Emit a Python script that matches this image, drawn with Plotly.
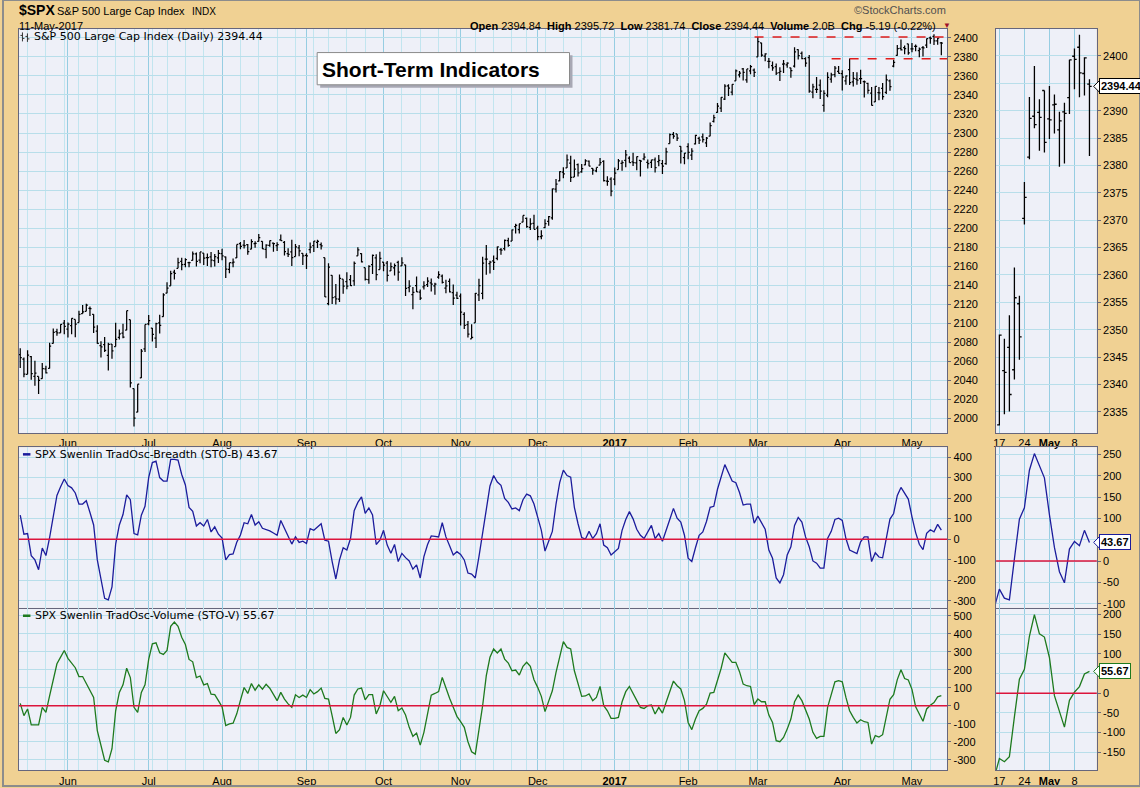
import plotly.graph_objects as go
import pandas as pd

W, H = 1140, 788

# ---------------- DATA ----------------
HOLIDAYS = ["2016-05-30", "2016-07-04", "2016-09-05", "2016-11-24", "2016-12-26",
            "2017-01-02", "2017-01-16", "2017-02-20", "2017-04-14"]
dates = [d for d in pd.bdate_range("2016-05-12", "2017-05-11")
         if d.strftime("%Y-%m-%d") not in HOLIDAYS]
n = len(dates)
idx = list(range(n))

open_ = [
    # May 2016
    2067.17, 2062.50, 2046.53, 2065.04, 2044.38, 2044.21, 2041.88, 2052.23, 2052.65, 2078.93, 2091.44, 2090.06, 2100.13,
    # Jun
    2093.94, 2097.71, 2104.07, 2100.83, 2110.18, 2112.71, 2115.65, 2109.57, 2091.75, 2076.65, 2077.60, 2066.36, 2078.20,
    2075.58, 2085.19, 2089.75, 2092.80, 2103.81, 2031.45, 2006.67, 2042.69, 2073.17,
    # Jul
    2099.34, 2095.05, 2084.43, 2100.42, 2106.97, 2131.72, 2139.50, 2153.81, 2157.88, 2165.13, 2162.04, 2163.79, 2166.10,
    2172.91, 2166.47, 2173.71, 2168.97, 2169.81, 2166.05, 2168.83,
    # Aug
    2173.15, 2169.94, 2156.81, 2163.51, 2168.79, 2183.76, 2182.24, 2182.81, 2177.97, 2183.74, 2186.08, 2186.24, 2177.84,
    2181.90, 2184.24, 2181.58, 2187.81, 2185.09, 2173.29, 2175.10, 2170.19, 2179.45, 2173.56,
    # Sep
    2171.33, 2177.49, 2181.61, 2185.17, 2182.76, 2169.08, 2120.86, 2150.47, 2127.86, 2125.36, 2146.48, 2143.99, 2145.94,
    2144.58, 2170.94, 2173.29, 2158.54, 2146.04, 2161.85, 2168.90, 2156.51,
    # Oct
    2164.33, 2163.37, 2155.15, 2158.22, 2164.19, 2160.39, 2161.35, 2137.67, 2130.26, 2139.68, 2132.95, 2138.31, 2140.81,
    2142.51, 2139.43, 2148.50, 2149.72, 2136.97, 2144.06, 2132.23, 2129.78,
    # Nov
    2128.68, 2109.43, 2098.80, 2083.79, 2100.59, 2129.92, 2131.56, 2167.49, 2162.71, 2165.64, 2168.29, 2177.53, 2178.61,
    2186.85, 2186.43, 2201.56, 2198.55, 2206.27, 2210.21, 2200.76, 2204.97,
    # Dec
    2200.17, 2191.12, 2200.65, 2207.26, 2210.72, 2241.13, 2249.73, 2258.83, 2263.32, 2268.35, 2253.77, 2266.81, 2259.24,
    2266.50, 2270.54, 2262.93, 2260.25, 2266.23, 2270.23, 2249.50, 2251.61,
    # Jan 2017
    2251.57, 2261.60, 2268.18, 2271.14, 2273.59, 2269.72, 2268.60, 2271.14, 2272.74, 2269.14, 2269.14, 2271.90, 2269.96,
    2267.78, 2267.88, 2288.88, 2298.63, 2299.02, 2286.01, 2274.02,
    # Feb
    2285.59, 2276.69, 2288.54, 2294.28, 2295.87, 2289.55, 2296.70, 2312.27, 2321.72, 2326.12, 2335.58, 2349.64, 2343.01,
    2354.91, 2361.11, 2367.50, 2355.73, 2365.23, 2366.08,
    # Mar
    2380.13, 2394.75, 2380.92, 2375.23, 2370.74, 2369.81, 2363.49, 2372.52, 2371.56, 2368.55, 2370.34, 2387.71, 2383.71,
    2378.24, 2379.32, 2343.00, 2345.97, 2350.42, 2329.11, 2339.79, 2356.54, 2361.31, 2364.82,
    # Apr
    2362.34, 2354.76, 2366.59, 2353.79, 2356.59, 2357.16, 2353.92, 2352.15, 2341.98, 2332.62, 2342.53, 2346.79, 2342.69,
    2354.74, 2370.33, 2381.51, 2388.98, 2389.70, 2393.68,
    # May
    2388.50, 2391.05, 2386.50, 2389.79, 2392.37, 2399.94, 2401.58, 2396.79, 2394.84,
]
high = [
    2073.99, 2064.15, 2071.88, 2065.69, 2060.61, 2044.21, 2058.35, 2055.58, 2079.67, 2094.73, 2094.30, 2099.06, 2103.48,
    2100.97, 2105.26, 2104.07, 2113.36, 2119.22, 2120.55, 2117.64, 2109.57, 2098.12, 2081.30, 2085.65, 2079.62, 2078.20,
    2100.66, 2093.66, 2099.71, 2113.32, 2103.81, 2031.45, 2036.09, 2073.13, 2098.94,
    2108.71, 2095.05, 2100.72, 2109.08, 2131.71, 2143.16, 2155.40, 2156.45, 2168.99, 2169.05, 2168.35, 2164.63, 2175.63,
    2174.56, 2175.11, 2173.71, 2173.54, 2174.98, 2172.85, 2177.09,
    2178.29, 2170.20, 2163.79, 2168.19, 2182.87, 2185.44, 2187.66, 2183.41, 2188.45, 2186.28, 2193.81, 2186.24, 2183.08,
    2187.03, 2185.00, 2185.15, 2193.42, 2186.66, 2179.00, 2187.94, 2183.48, 2182.27, 2173.79,
    2173.56, 2184.87, 2186.57, 2187.87, 2184.94, 2169.08, 2163.30, 2150.47, 2141.33, 2151.31, 2146.48, 2153.61, 2150.80,
    2165.11, 2179.99, 2173.75, 2158.54, 2161.13, 2172.40, 2172.67, 2175.30,
    2164.41, 2165.46, 2163.95, 2162.93, 2165.86, 2169.60, 2161.56, 2145.36, 2138.19, 2149.19, 2135.61, 2144.38, 2148.44,
    2147.18, 2142.63, 2154.79, 2151.44, 2145.73, 2147.13, 2140.72, 2133.25,
    2131.45, 2111.76, 2102.56, 2099.07, 2132.00, 2146.87, 2170.10, 2182.30, 2165.92, 2171.36, 2180.84, 2179.22, 2188.06,
    2189.89, 2198.70, 2204.80, 2204.72, 2213.35, 2211.14, 2210.46, 2214.10,
    2202.60, 2197.95, 2209.42, 2212.78, 2241.63, 2251.69, 2259.80, 2264.03, 2277.53, 2276.20, 2272.12, 2268.05, 2267.47,
    2272.56, 2271.23, 2263.18, 2263.79, 2273.82, 2271.31, 2254.51, 2253.58,
    2263.88, 2272.82, 2271.50, 2282.10, 2275.49, 2279.27, 2275.32, 2271.78, 2278.68, 2272.08, 2272.01, 2274.33, 2276.96,
    2271.78, 2284.63, 2299.55, 2300.99, 2299.02, 2286.01, 2279.09,
    2289.14, 2283.97, 2298.31, 2296.18, 2299.40, 2295.91, 2311.08, 2319.23, 2331.58, 2337.58, 2351.30, 2351.31, 2351.16,
    2366.71, 2365.13, 2368.26, 2367.34, 2371.54, 2367.79,
    2400.98, 2394.75, 2383.89, 2378.80, 2375.12, 2373.09, 2369.08, 2376.86, 2374.42, 2368.55, 2390.01, 2388.10, 2385.71,
    2379.55, 2381.93, 2351.81, 2358.92, 2356.22, 2344.90, 2363.78, 2363.36, 2370.42, 2370.35,
    2365.87, 2360.53, 2378.36, 2364.16, 2363.76, 2366.37, 2355.22, 2352.72, 2348.26, 2349.14, 2348.35, 2352.63, 2361.37,
    2356.18, 2376.98, 2392.48, 2398.16, 2392.10, 2393.68,
    2394.49, 2392.93, 2389.82, 2391.43, 2399.29, 2401.36, 2403.87, 2399.74, 2395.72,
]
low = [
    2053.13, 2043.49, 2046.53, 2040.82, 2034.49, 2025.91, 2041.88, 2047.26, 2052.65, 2078.93, 2087.08, 2090.06, 2088.66,
    2085.10, 2088.59, 2085.36, 2100.83, 2110.18, 2112.71, 2107.73, 2089.96, 2078.46, 2064.10, 2069.80, 2050.37, 2062.84,
    2075.58, 2083.02, 2084.36, 2092.80, 2032.57, 1991.68, 2006.67, 2042.69, 2070.00,
    2097.90, 2080.86, 2074.02, 2089.39, 2106.97, 2131.72, 2139.50, 2146.21, 2157.88, 2155.79, 2159.07, 2159.01, 2166.10,
    2159.75, 2163.24, 2161.35, 2160.18, 2159.07, 2159.74, 2163.49,
    2166.21, 2147.58, 2152.77, 2159.07, 2168.79, 2177.85, 2178.61, 2172.00, 2177.97, 2179.42, 2186.08, 2178.14, 2168.50,
    2180.46, 2175.13, 2175.96, 2186.80, 2171.25, 2169.74, 2160.39, 2170.19, 2170.41, 2161.35,
    2157.09, 2173.59, 2175.10, 2179.07, 2177.49, 2127.81, 2119.12, 2120.27, 2119.90, 2122.36, 2131.20, 2135.91, 2139.17,
    2139.57, 2170.94, 2163.97, 2145.04, 2141.55, 2151.79, 2145.20, 2156.51,
    2154.77, 2144.01, 2155.15, 2150.28, 2144.85, 2160.39, 2128.84, 2132.77, 2114.72, 2132.98, 2124.43, 2135.49, 2138.15,
    2133.44, 2130.09, 2146.91, 2141.93, 2131.59, 2132.52, 2119.36, 2125.53,
    2097.85, 2094.00, 2085.23, 2083.79, 2100.59, 2123.56, 2125.35, 2151.17, 2152.49, 2156.08, 2166.38, 2172.20, 2176.65,
    2180.38, 2186.43, 2194.51, 2194.51, 2206.27, 2200.36, 2198.15, 2198.81,
    2187.44, 2188.37, 2199.97, 2202.52, 2208.93, 2237.57, 2249.23, 2252.37, 2263.32, 2248.44, 2253.77, 2254.24, 2258.21,
    2266.14, 2265.15, 2256.08, 2258.84, 2266.15, 2249.11, 2244.56, 2233.62,
    2245.13, 2261.60, 2260.45, 2264.06, 2268.90, 2265.27, 2260.83, 2254.25, 2271.51, 2262.81, 2263.35, 2258.41, 2265.01,
    2257.02, 2266.68, 2288.88, 2294.08, 2291.62, 2268.04, 2267.21,
    2272.44, 2271.65, 2287.88, 2288.57, 2290.16, 2285.38, 2296.61, 2311.10, 2321.42, 2322.17, 2334.81, 2338.87, 2339.58,
    2354.91, 2358.34, 2355.09, 2352.87, 2361.87, 2358.96,
    2380.13, 2380.17, 2375.39, 2367.98, 2365.51, 2361.01, 2354.54, 2363.04, 2368.52, 2358.18, 2368.94, 2377.18, 2377.64,
    2369.66, 2342.24, 2336.45, 2342.13, 2335.74, 2322.25, 2337.63, 2352.94, 2358.58, 2362.60,
    2344.73, 2350.72, 2350.52, 2348.90, 2350.74, 2351.50, 2337.25, 2341.18, 2328.95, 2332.51, 2334.54, 2335.05, 2340.91,
    2344.51, 2369.19, 2381.15, 2386.78, 2382.68, 2382.36,
    2384.83, 2385.82, 2379.75, 2380.35, 2389.38, 2393.92, 2392.44, 2392.79, 2381.74,
]
close = [
    2064.11, 2046.61, 2066.66, 2047.21, 2047.63, 2040.04, 2052.32, 2048.04, 2076.06, 2090.54, 2090.10, 2099.06, 2096.95,
    2099.33, 2105.26, 2099.13, 2109.41, 2112.13, 2119.12, 2115.48, 2096.07, 2079.06, 2075.32, 2071.50, 2077.99, 2071.22,
    2083.25, 2088.90, 2085.45, 2113.32, 2037.41, 2000.54, 2036.09, 2070.77, 2098.94,
    2102.95, 2088.55, 2099.73, 2097.90, 2129.90, 2137.16, 2152.14, 2152.43, 2163.75, 2161.74, 2166.89, 2163.78, 2173.02,
    2165.17, 2175.03, 2168.48, 2169.18, 2166.58, 2170.06, 2173.60,
    2170.84, 2157.03, 2163.79, 2164.25, 2182.87, 2180.89, 2181.74, 2175.49, 2185.79, 2184.05, 2190.15, 2178.15, 2182.22,
    2187.02, 2183.87, 2182.64, 2186.90, 2175.44, 2172.47, 2169.04, 2180.38, 2176.12, 2170.95,
    2170.86, 2179.98, 2186.48, 2186.16, 2181.30, 2127.81, 2159.04, 2127.02, 2125.77, 2147.26, 2139.16, 2139.12, 2139.76,
    2163.12, 2177.18, 2164.69, 2146.10, 2159.93, 2171.37, 2151.13, 2168.27,
    2161.20, 2150.49, 2159.73, 2160.77, 2153.74, 2163.66, 2136.73, 2139.18, 2132.55, 2132.98, 2126.50, 2139.60, 2144.29,
    2141.34, 2141.16, 2151.33, 2143.16, 2139.43, 2133.04, 2126.41, 2126.15,
    2111.72, 2097.94, 2088.66, 2085.18, 2131.52, 2139.56, 2163.26, 2167.48, 2164.45, 2164.20, 2180.39, 2176.94, 2187.12,
    2181.90, 2198.18, 2202.94, 2204.72, 2213.35, 2201.72, 2204.66, 2198.81,
    2191.08, 2191.95, 2204.71, 2212.23, 2241.35, 2246.19, 2259.53, 2256.96, 2271.72, 2253.28, 2262.03, 2258.07, 2262.53,
    2270.76, 2265.18, 2260.96, 2263.79, 2268.88, 2249.92, 2249.26, 2238.83,
    2257.83, 2270.75, 2269.00, 2276.98, 2268.90, 2268.90, 2275.32, 2270.44, 2274.64, 2267.89, 2271.89, 2263.69, 2271.31,
    2265.20, 2280.07, 2298.37, 2296.68, 2294.69, 2280.90, 2278.87,
    2279.55, 2280.85, 2297.42, 2292.56, 2293.08, 2294.67, 2307.87, 2316.10, 2328.25, 2337.58, 2349.25, 2347.22, 2351.16,
    2365.38, 2362.82, 2363.81, 2367.34, 2369.75, 2363.64,
    2395.96, 2381.92, 2383.12, 2375.31, 2368.39, 2362.98, 2364.87, 2372.60, 2373.47, 2365.45, 2385.26, 2381.38, 2378.25,
    2373.47, 2344.02, 2348.45, 2345.96, 2343.98, 2341.59, 2358.57, 2361.13, 2368.06, 2362.72,
    2358.84, 2360.16, 2352.95, 2357.49, 2355.54, 2357.16, 2353.78, 2344.93, 2328.95, 2349.01, 2342.19, 2338.17, 2355.84,
    2348.69, 2374.15, 2388.61, 2387.45, 2388.77, 2384.20,
    2388.33, 2391.17, 2388.13, 2389.52, 2399.29, 2399.38, 2396.92, 2399.63, 2394.44,
]

sto_b = [
    117, 24, 27, -80, -101, -149, -43, -80, 8, 120,
    213, 255, 293, 261, 250, 225, 171, 171, 187, 130,
    69, -101, -200, -288, -296, -232, -24, 69, 120, 216,
    192, 27, 21, 117, 160, 300, 373, 380, 300, 283,
    283, 389, 389, 385, 315, 264, 155, 136, 64, 80,
    64, 96, 35, 60, 24, 5, -101, -75, -72, -15,
    20, 80, 75, 120, 69, 85, 53, 48, 40, 30,
    19, 91, 53, 11, -24, 11, -16, -10, -21, 51,
    43, 59, 75, -5, -10, -109, -194, -101, -42, -53,
    3, 139, 179, 206, 126, 152, 118, -26, -5, 43,
    -29, -69, -26, -109, -69, -90, -106, -146, -125, -189,
    -85, -26, 16, 14, 11, 80, 11, -32, -77, -61, -74,
    -101, -165, -170, -189, -85, 35, 147, 259, 310, 278,
    262, 198, 179, 147, 152, 139, 192, 219, 211, 171,
    107, 43, -58, -5, 38, 171, 275, 336, 310, 302,
    155, 75, 8, 0, 38, 3, 27, 75, -29, -42,
    -77, -61, -45, 43, 96, 134, 99, 48, 19, 3,
    35, 67, 3, 27, -10, 48, 96, 150, 102, 83,
    19, -93, -109, -42, 19, 35, 86, 155, 160, 243,
    307, 363, 323, 283, 275, 227, 166, 171, 171, 78,
    112, 83, 48, -53, -93, -189, -213, -173, -77, -37,
    67, 106, 83, 11, -37, -106, -117, -141, -141, 3,
    38, 96, 102, 91, 3, -53, -61, -70, -13, 11,
    11, -109, -66, -87, -91, 5, 98, 125, 213, 252,
    225, 195, 109, 32, -25, -51, 28, 46, 36, 72, 43.67,
]
sto_v = [
    13, -55, -18, -107, -107, -107, -9, -37, 55, 145,
    233, 270, 307, 263, 240, 211, 162, 162, 123, 85,
    46, -138, -220, -303, -312, -239, -28, 74, 116, 208,
    156, -9, -37, 74, 116, 257, 344, 349, 294, 285,
    307, 441, 465, 441, 380, 340, 257, 244, 156, 165,
    116, 123, 64, 61, 28, -6, -110, -101, -97, -45,
    30, 101, 68, 123, 86, 116, 92, 119, 97, 60,
    28, 74, 37, 10, -9, 61, 46, 59, 46, 89,
    65, 78, 98, 41, 37, -56, -154, -133, -65, -107,
    -65, 59, 93, 98, 33, 61, 61, -46, 0, 83,
    52, 19, 52, -28, -13, -52, -120, -170, -152, -219,
    -148, -52, 59, 68, 78, 157, 93, 41, -9, -59, -89,
    -120, -200, -256, -269, -144, 0, 167, 269, 315, 293,
    315, 259, 237, 194, 198, 170, 219, 241, 219, 144,
    102, 52, -33, 28, 83, 185, 278, 356, 324, 315,
    194, 120, 52, 54, 65, 28, 46, 107, 0, -28,
    -70, -70, -65, 22, 78, 107, 70, 33, -9, -15,
    0, 4, -46, -9, -41, 19, 74, 137, 111, 93,
    28, -93, -133, -74, -28, -15, 9, 70, 74, 137,
    208, 293, 269, 241, 241, 189, 120, 111, 107, 6,
    37, 22, 22, -52, -93, -194, -200, -176, -130, -74,
    22, 59, 28, -19, -74, -148, -181, -170, -170, -9,
    56, 133, 139, 133, 46, -28, -65, -96, -78, -89,
    -93, -213, -166, -174, -161, -60, 36, 61, 145, 200,
    151, 143, 91, -6, -44, -86, -18, 3, 17, 49, 55.67,
]

# user-drawn horizontal levels (start date, price)
LEVELS = [("2017-03-01", 2401.0), ("2017-03-30", 2378.0)]
ZOOM_START = "2017-04-17"

HEADER_QUOTE = [("Open", "2394.84"), ("High", "2395.72"), ("Low", "2381.74"),
                ("Close", "2394.44"), ("Volume", "2.0B"), ("Chg", "-5.19 (-0.22%)")]

assert len(open_) == n and len(high) == n and len(low) == n and len(close) == n
assert len(sto_b) == n and len(sto_v) == n

# ---------------- STYLE ----------------
TAN = "#F0D193"
PLOT_BG = "#EEF0F8"
GRID_H = "#B8DEEA"
GRID_MAJOR = "#96CDE2"
GRID_MINOR = "#C2E5EF"
BORDER = "#66667C"
BLUE = "#1C1C9C"
GREEN = "#1E7A1E"
RED = "#DC143C"
FONT = "Liberation Sans, Arial, sans-serif"
VFONT = "DejaVu Sans, Verdana, sans-serif"


def px(x):
    return x / W


def py(y):
    return 1 - y / H


date_str = [d.strftime("%Y-%m-%d") for d in dates]
zs = date_str.index(ZOOM_START)
s = zs - 1

month_idx, month_txt = [], []
for i in range(1, n):
    if dates[i].month != dates[i - 1].month:
        month_idx.append(i)
        month_txt.append("<b>%d</b>" % dates[i].year if dates[i].month == 1 else dates[i].strftime("%b"))
week_idx = [i for i in range(1, n) if dates[i].weekday() < dates[i - 1].weekday()]

zoom_ticks, zoom_txt = [], []
for i in week_idx:
    if i >= zs:
        zoom_ticks.append(i)
        if dates[i].month != dates[i - 1].month:
            zoom_txt.append("<b>%s</b>" % dates[i].strftime("%b"))
        else:
            zoom_txt.append(str(dates[i].day))

MAIN_XR = [-0.35, n - 1 + 1.6]
ZOOM_XR = [zs - 0.66, n - 1 + 1.47]

XL = [px(16), px(946.7)]
XR = [px(995.7), px(1096.7)]
Y1 = [py(434.3), py(28.6)]
Y2 = [py(609.5), py(448.3)]
Y3 = [py(772.3), py(609.5)]

fig = go.Figure()

bar_line = dict(color="black", width=1.25)
fig.add_trace(go.Ohlc(x=idx, open=open_, high=high, low=low, close=close,
                      xaxis="x", yaxis="y", tickwidth=0.42,
                      increasing=dict(line=bar_line), decreasing=dict(line=bar_line),
                      hoverinfo="skip", showlegend=False))
fig.add_trace(go.Ohlc(x=idx[s:], open=open_[s:], high=high[s:], low=low[s:], close=close[s:],
                      xaxis="x2", yaxis="y2", tickwidth=0.45,
                      increasing=dict(line=dict(color="black", width=1.3)),
                      decreasing=dict(line=dict(color="black", width=1.3)),
                      hoverinfo="skip", showlegend=False))
fig.add_trace(go.Scatter(x=idx, y=sto_b, mode="lines", line=dict(color=BLUE, width=1.3),
                         xaxis="x3", yaxis="y3", hoverinfo="skip", showlegend=False))
fig.add_trace(go.Scatter(x=idx[s:], y=sto_b[s:], mode="lines", line=dict(color=BLUE, width=1.3),
                         xaxis="x4", yaxis="y4", hoverinfo="skip", showlegend=False))
fig.add_trace(go.Scatter(x=idx, y=sto_v, mode="lines", line=dict(color=GREEN, width=1.3),
                         xaxis="x5", yaxis="y5", hoverinfo="skip", showlegend=False))
fig.add_trace(go.Scatter(x=idx[s:], y=sto_v[s:], mode="lines", line=dict(color=GREEN, width=1.3),
                         xaxis="x6", yaxis="y6", hoverinfo="skip", showlegend=False))


def xax(domain, anchor, rng, tickvals, ticktext, labels, minor_vals, mirror=True):
    d = dict(domain=domain, anchor=anchor, range=rng, tickmode="array",
             tickvals=tickvals, ticktext=ticktext, showticklabels=labels,
             showgrid=True, gridcolor=GRID_MAJOR, gridwidth=1, zeroline=False,
             showline=True, mirror=mirror, linecolor=BORDER, linewidth=1.2,
             ticks="", tickfont=dict(family=FONT, size=11, color="black"),
             rangeslider=dict(visible=False), fixedrange=True)
    if minor_vals is not None:
        d["minor"] = dict(tickmode="array", tickvals=minor_vals, showgrid=True,
                          gridcolor=GRID_MINOR, gridwidth=1, ticks="")
    return d


def yax(domain, anchor, rng, vals, hide=None):
    txt = ["" if (hide is not None and v == hide) else str(v) for v in vals]
    return dict(domain=domain, anchor=anchor, range=rng, side="right",
                tickmode="array", tickvals=vals, ticktext=txt,
                showgrid=True, gridcolor=GRID_H, gridwidth=1, zeroline=False,
                showline=True, mirror=True, linecolor=BORDER, linewidth=1.2,
                ticks="outside", ticklen=3, tickcolor=BORDER,
                tickfont=dict(family=FONT, size=11, color="black"), fixedrange=True)


layout = dict(
    width=W, height=H, autosize=False,
    margin=dict(l=0, r=0, t=0, b=0),
    paper_bgcolor=TAN, plot_bgcolor=PLOT_BG,
    showlegend=False,
    xaxis=xax(XL, "y", MAIN_XR, month_idx, month_txt, True, week_idx),
    yaxis=yax(Y1, "x", [1984.6, 2409.8], list(range(2000, 2401, 20))),
    xaxis2=xax(XR, "y2", ZOOM_XR, zoom_ticks, zoom_txt, True, None),
    yaxis2=yax(Y1, "x2", [2331.1, 2405.0], list(range(2335, 2401, 5)), hide=2395),
    xaxis3=xax(XL, "y3", MAIN_XR, month_idx, month_txt, False, week_idx),
    yaxis3=yax(Y2, "x3", [-335, 448], list(range(-300, 401, 100))),
    xaxis4=xax(XR, "y4", ZOOM_XR, zoom_ticks, zoom_txt, False, None),
    yaxis4=yax(Y2, "x4", [-110, 267], list(range(-100, 251, 50)), hide=50),
    xaxis5=xax(XL, "y5", MAIN_XR, month_idx, month_txt, True, week_idx, mirror=False),
    yaxis5=yax(Y3, "x5", [-359, 543], list(range(-300, 501, 100))),
    xaxis6=xax(XR, "y6", ZOOM_XR, zoom_ticks, zoom_txt, True, None, mirror=False),
    yaxis6=yax(Y3, "x6", [-196, 217], list(range(-150, 201, 50)), hide=50),
)
fig.update_layout(**layout)

shapes = []
# zero lines in oscillator panels
for xr, yr in [("x3", "y3"), ("x4", "y4"), ("x5", "y5"), ("x6", "y6")]:
    shapes.append(dict(type="line", xref=xr + " domain", yref=yr, x0=0, x1=1, y0=0, y1=0,
                       line=dict(color=RED, width=1.5), layer="above"))
# dashed horizontal levels
for d0, lvl in LEVELS:
    i0 = date_str.index(d0) - 0.9
    shapes.append(dict(type="line", xref="x", yref="y", x0=i0, x1=MAIN_XR[1], y0=lvl, y1=lvl,
                       line=dict(color="#E01B1B", width=1.5, dash="dash")))
# title box with shadow
shapes.append(dict(type="rect", xref="paper", yref="paper", x0=px(318), x1=px(571), y0=py(88), y1=py(55.5),
                   fillcolor="#A8A8B4", line=dict(width=0), layer="above"))
shapes.append(dict(type="rect", xref="paper", yref="paper", x0=px(315), x1=px(568), y0=py(85), y1=py(52.7),
                   fillcolor="white", line=dict(color="#8A8A8A", width=1), layer="above"))
# outer frame
shapes.append(dict(type="rect", xref="paper", yref="paper", x0=0, x1=1, y0=0, y1=1,
                   line=dict(color="#8C8C8C", width=2), fillcolor="rgba(0,0,0,0)"))
# legend dashes
shapes.append(dict(type="line", xref="paper", yref="paper", x0=px(20), x1=px(27.5), y0=py(455.5), y1=py(455.5),
                   line=dict(color=BLUE, width=2.5)))
shapes.append(dict(type="line", xref="paper", yref="paper", x0=px(20), x1=px(27.5), y0=py(617.3), y1=py(617.3),
                   line=dict(color=GREEN, width=2.5)))
# tiny bar-chart icon before the price panel title
for xi, a, b in [(19.5, 32.5, 41.5), (24.5, 33.5, 42)]:
    shapes.append(dict(type="line", xref="paper", yref="paper", x0=px(xi), x1=px(xi), y0=py(a), y1=py(b),
                       line=dict(color="#333", width=1), layer="above"))
    shapes.append(dict(type="line", xref="paper", yref="paper", x0=px(xi - 2), x1=px(xi), y0=py(a + 3), y1=py(a + 3),
                       line=dict(color="#333", width=1), layer="above"))
    shapes.append(dict(type="line", xref="paper", yref="paper", x0=px(xi), x1=px(xi + 2), y0=py(b - 3), y1=py(b - 3),
                       line=dict(color="#333", width=1), layer="above"))

ann = []


def text(x, y, t, size=11, family=FONT, color="black", xanchor="left", **kw):
    ann.append(dict(xref="paper", yref="paper", x=px(x), y=py(y), text=t, showarrow=False,
                    xanchor=xanchor, yanchor="middle", font=dict(family=family, size=size, color=color), **kw))


text(14, 10.5, "<b>$SPX</b>", size=14)
text(52, 11, "S&P 500 Large Cap Index", size=11)
text(187, 11.5, "INDX", size=10)
text(14, 26, "11-May-2017", size=11)
quote = "  ".join("<b>%s</b> %s" % (k, v) for k, v in HEADER_QUOTE)
text(937, 26, quote, size=11, xanchor="right")
text(940, 26, "▼", size=8, color="#A0102A")
text(947, 10, "©StockCharts.com", size=11, color="#505050", xanchor="right")

text(29, 36.5, "S&P 500 Large Cap Index (Daily) %.2f" % close[-1], size=11, family=VFONT)
text(318, 69.5, "<b>Short-Term Indicators</b>", size=21)
text(30, 455.5, "SPX Swenlin TradOsc-Breadth (STO-B) %.2f" % sto_b[-1], size=11, family=VFONT)
text(30, 617.3, "SPX Swenlin TradOsc-Volume (STO-V) %.2f" % sto_v[-1], size=11, family=VFONT)

# last-value tags on the zoom panels (with small pointer)
for yref, val, col, upp in [("y2", close[-1], "black", 73.9 / 405.7),
                            ("y4", sto_b[-1], BLUE, 377 / 161.7),
                            ("y6", sto_v[-1], GREEN, 413 / 162.3)]:
    ann.append(dict(xref="paper", yref=yref, x=px(1099), y=val, text="<b>%.2f</b>" % val,
                    showarrow=False, xanchor="left", yanchor="middle",
                    font=dict(family=FONT, size=11, color="black"),
                    bgcolor="white", bordercolor=col, borderwidth=1, borderpad=1))
    d = 6 * upp
    shapes.append(dict(type="path", xref="paper", yref=yref,
                       path="M %f,%f L %f,%f L %f,%f Z" % (px(1093.5), val, px(1099.5), val + d, px(1099.5), val - d),
                       fillcolor="white", line=dict(color=col, width=1), layer="above"))

fig.update_layout(shapes=shapes, annotations=ann)

fig.write_html("out.html", config={"displayModeBar": False},
               post_script="document.body.style.margin='0';")
